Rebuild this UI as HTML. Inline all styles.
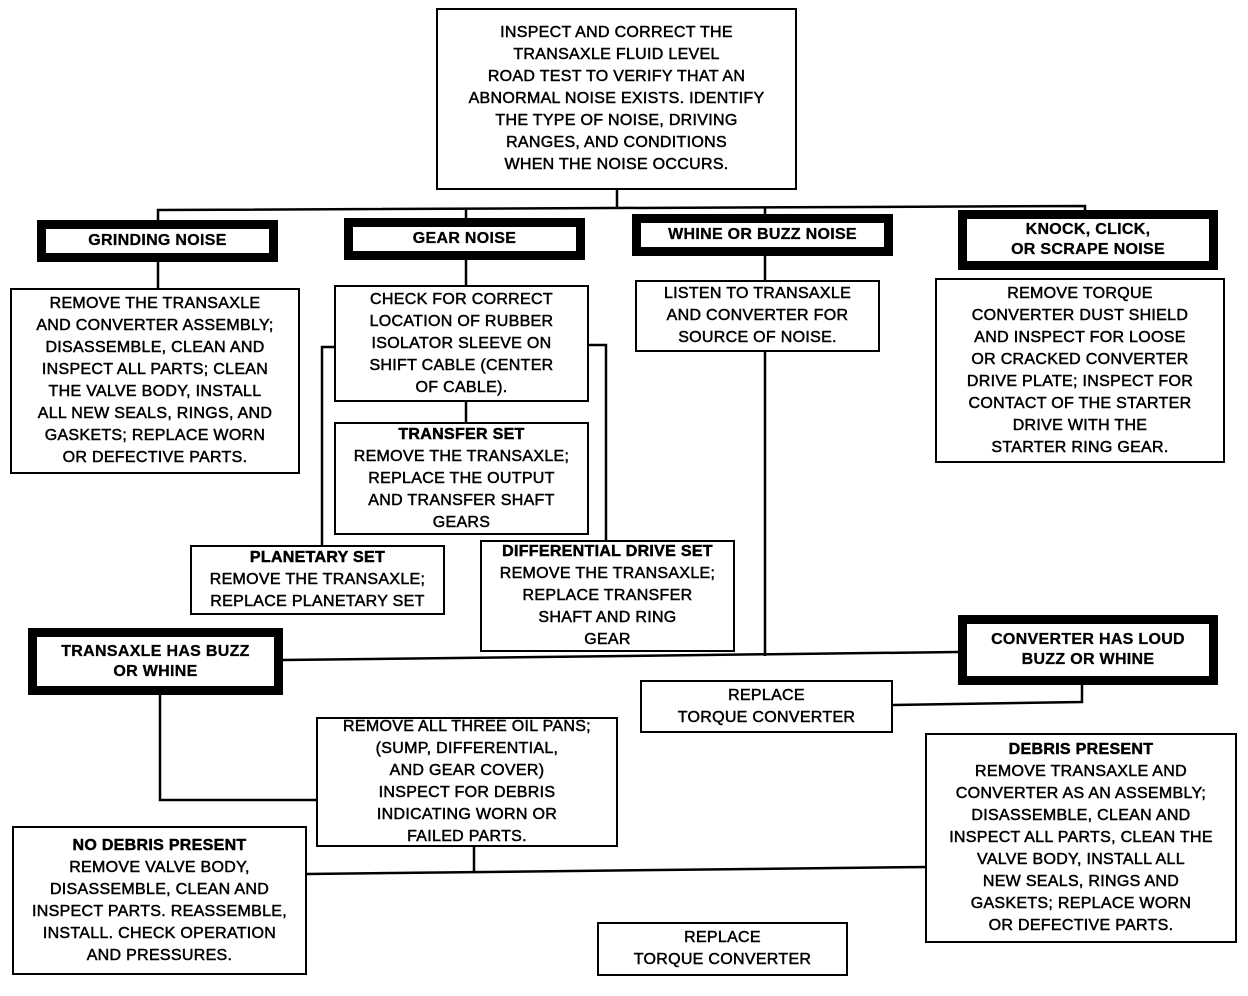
<!DOCTYPE html>
<html><head><meta charset="utf-8"><style>
body{margin:0;width:1248px;height:996px;background:#fff;position:relative;overflow:hidden;font-family:"Liberation Sans Narrow","Liberation Sans",sans-serif;}
.b{position:absolute;box-sizing:border-box;border:2px solid #000;background:#fff;text-align:center;font-size:16px;line-height:22px;color:#000;display:flex;flex-direction:column;justify-content:center;align-items:center;font-weight:normal;letter-spacing:0.3px;-webkit-text-stroke:0.5px #000}
.t{border:9px solid #000;font-weight:bold;font-size:16px;line-height:20px;-webkit-text-stroke:0.3px #000}
b{font-weight:bold}
svg{position:absolute;left:0;top:0}
</style></head><body>
<svg width="1248" height="996"><g stroke="#000" stroke-width="2.5" fill="none">
<line x1="617" y1="190" x2="617" y2="208"/>
<polyline points="158,220 158,210 1085,206 1085,212"/>
<line x1="466" y1="208" x2="466" y2="285"/>
<line x1="765" y1="208" x2="765" y2="656"/>
<line x1="158" y1="262" x2="158" y2="290"/>
<line x1="466" y1="402" x2="466" y2="422"/>
<polyline points="334,347 322,347 322,546"/>
<polyline points="589,345 606,345 606,542"/>
<line x1="283" y1="660" x2="958" y2="652"/>
<polyline points="893,705 1082,702 1082,685"/>
<polyline points="160,695 160,800 316,800"/>
<line x1="474" y1="847" x2="474" y2="872"/>
<line x1="307" y1="874" x2="926" y2="867"/>
</g></svg>
<div class="b" style="left:436px;top:8px;width:361px;height:182px">INSPECT AND CORRECT THE<br>TRANSAXLE FLUID LEVEL<br>ROAD TEST TO VERIFY THAT AN<br>ABNORMAL NOISE EXISTS. IDENTIFY<br>THE TYPE OF NOISE, DRIVING<br>RANGES, AND CONDITIONS<br>WHEN THE NOISE OCCURS.</div>
<div class="b t" style="left:37px;top:220px;width:241px;height:42px">GRINDING NOISE</div>
<div class="b t" style="left:344px;top:218px;width:241px;height:42px">GEAR NOISE</div>
<div class="b t" style="left:632px;top:214px;width:261px;height:42px">WHINE OR BUZZ NOISE</div>
<div class="b t" style="left:958px;top:210px;width:260px;height:60px">KNOCK, CLICK,<br>OR SCRAPE NOISE</div>
<div class="b" style="left:10px;top:288px;width:290px;height:186px">REMOVE THE TRANSAXLE<br>AND CONVERTER ASSEMBLY;<br>DISASSEMBLE, CLEAN AND<br>INSPECT ALL PARTS; CLEAN<br>THE VALVE BODY, INSTALL<br>ALL NEW SEALS, RINGS, AND<br>GASKETS; REPLACE WORN<br>OR DEFECTIVE PARTS.</div>
<div class="b" style="left:334px;top:285px;width:255px;height:117px">CHECK FOR CORRECT<br>LOCATION OF RUBBER<br>ISOLATOR SLEEVE ON<br>SHIFT CABLE (CENTER<br>OF CABLE).</div>
<div class="b" style="left:635px;top:280px;width:245px;height:72px">LISTEN TO TRANSAXLE<br>AND CONVERTER FOR<br>SOURCE OF NOISE.</div>
<div class="b" style="left:935px;top:278px;width:290px;height:185px">REMOVE TORQUE<br>CONVERTER DUST SHIELD<br>AND INSPECT FOR LOOSE<br>OR CRACKED CONVERTER<br>DRIVE PLATE; INSPECT FOR<br>CONTACT OF THE STARTER<br>DRIVE WITH THE<br>STARTER RING GEAR.</div>
<div class="b" style="left:334px;top:422px;width:255px;height:113px"><b>TRANSFER SET</b>REMOVE THE TRANSAXLE;<br>REPLACE THE OUTPUT<br>AND TRANSFER SHAFT<br>GEARS</div>
<div class="b" style="left:190px;top:545px;width:255px;height:70px"><b>PLANETARY SET</b>REMOVE THE TRANSAXLE;<br>REPLACE PLANETARY SET</div>
<div class="b" style="left:480px;top:540px;width:255px;height:112px"><b>DIFFERENTIAL DRIVE SET</b>REMOVE THE TRANSAXLE;<br>REPLACE TRANSFER<br>SHAFT AND RING<br>GEAR</div>
<div class="b t" style="left:28px;top:628px;width:255px;height:67px">TRANSAXLE HAS BUZZ<br>OR WHINE</div>
<div class="b t" style="left:958px;top:615px;width:260px;height:70px">CONVERTER HAS LOUD<br>BUZZ OR WHINE</div>
<div class="b" style="left:640px;top:680px;width:253px;height:53px">REPLACE<br>TORQUE CONVERTER</div>
<div class="b" style="left:316px;top:717px;width:302px;height:130px">REMOVE ALL THREE OIL PANS;<br>(SUMP, DIFFERENTIAL,<br>AND GEAR COVER)<br>INSPECT FOR DEBRIS<br>INDICATING WORN OR<br>FAILED PARTS.</div>
<div class="b" style="left:925px;top:733px;width:312px;height:210px"><b>DEBRIS PRESENT</b>REMOVE TRANSAXLE AND<br>CONVERTER AS AN ASSEMBLY;<br>DISASSEMBLE, CLEAN AND<br>INSPECT ALL PARTS, CLEAN THE<br>VALVE BODY, INSTALL ALL<br>NEW SEALS, RINGS AND<br>GASKETS; REPLACE WORN<br>OR DEFECTIVE PARTS.</div>
<div class="b" style="left:12px;top:826px;width:295px;height:149px"><b>NO DEBRIS PRESENT</b>REMOVE VALVE BODY,<br>DISASSEMBLE, CLEAN AND<br>INSPECT PARTS. REASSEMBLE,<br>INSTALL. CHECK OPERATION<br>AND PRESSURES.</div>
<div class="b" style="left:597px;top:922px;width:251px;height:54px">REPLACE<br>TORQUE CONVERTER</div>
</body></html>
